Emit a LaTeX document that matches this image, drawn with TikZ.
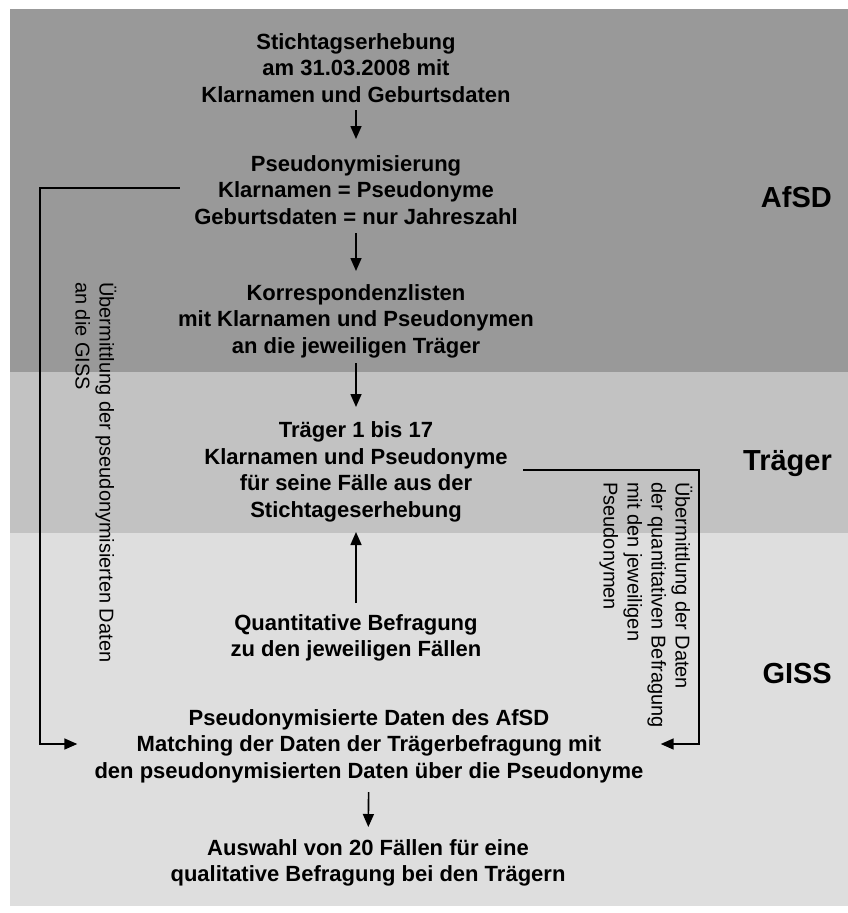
\documentclass[tikz,border=0pt]{standalone}
\usepackage{fontspec}
\setmainfont{Liberation Sans}
\usetikzlibrary{arrows.meta}
\definecolor{afsdgrey}{RGB}{153,153,153}
\definecolor{traegergrey}{RGB}{194,194,194}
\definecolor{gissgrey}{RGB}{222,222,222}
\begin{document}
\begin{tikzpicture}[x=1pt,y=-1pt,
  box/.style={font=\bfseries\fontsize{22}{26.5}\selectfont, align=center, inner sep=0pt},
  side/.style={font=\fontsize{20}{24}\selectfont, align=left, rotate=-90, inner sep=0pt, anchor=west},
  band/.style={font=\bfseries\fontsize{29}{34}\selectfont, inner sep=0pt, anchor=base east},
  arr/.style={line width=1.6pt, -{Triangle[length=13pt,width=11pt]}}]
\useasboundingbox (0,0) rectangle (848,913);
\fill[afsdgrey] (10,9) rectangle (848,372);
\fill[traegergrey] (10,372) rectangle (848,533);
\fill[gissgrey] (10,533) rectangle (848,906);

\node[box] (n1) at (356,68) {Stichtagserhebung\\am 31.03.2008 mit\\Klarnamen und Geburtsdaten};
\node[box, minimum width=352pt] (n2) at (356,190) {Pseudonymisierung\\Klarnamen = Pseudonyme\\Geburtsdaten = nur Jahreszahl};
\node[box] (n3) at (356,321) {Korrespondenzlisten\\mit Klarnamen und Pseudonymen\\an die jeweiligen Träger};
\node[box, minimum width=334pt] (n4) at (356,472) {Träger 1 bis 17\\Klarnamen und Pseudonyme\\für seine Fälle aus der\\Stichtageserhebung};
\node[box] (n5) at (356,638) {Quantitative Befragung\\zu den jeweiligen Fällen};
\node[box, minimum width=583pt] (n6) at (369,746) {Pseudonymisierte Daten des AfSD\\Matching der Daten der Trägerbefragung mit\\den pseudonymisierten Daten über die Pseudonyme};
\node[box] (n7) at (368,863) {Auswahl von 20 Fällen für eine\\qualitative Befragung bei den Trägern};

\node[band] (lafsd) at (832,207) {AfSD};
\node[band] (ltraeger) at (832,470) {Träger};
\node[band] (lgiss) at (832,683) {GISS};

\node[side] (tl) at (96,282) {Übermittlung der pseudonymisierten Daten\\an die GISS};
\node[side] (tr) at (646,482) {Übermittlung der Daten\\der quantitativen Befragung\\mit den jeweiligen\\Pseudonymen};

\draw[arr, shorten <=42pt, shorten >=51pt] (n1.center) -- (n2.center);
\draw[arr, shorten <=43pt, shorten >=50pt] (n2.center) -- (n3.center);
\draw[arr, shorten <=42pt, shorten >=65pt] (n3.center) -- (n4.center);
\draw[arr, shorten <=35pt, shorten >=60pt] (n5.center) -- (n4.center);
\draw[arr, shorten <=46pt, shorten >=36pt] (n6.center) -- (n7.center);

\coordinate (L) at (40,188);
\coordinate (R) at (699,470);
\draw[arr] (n2.west |- L) -- (L) |- ([yshift=2pt]n6.west);
\draw[arr] (n4.east |- R) -- (R) |- ([yshift=2pt]n6.east);
\end{tikzpicture}
\end{document}
